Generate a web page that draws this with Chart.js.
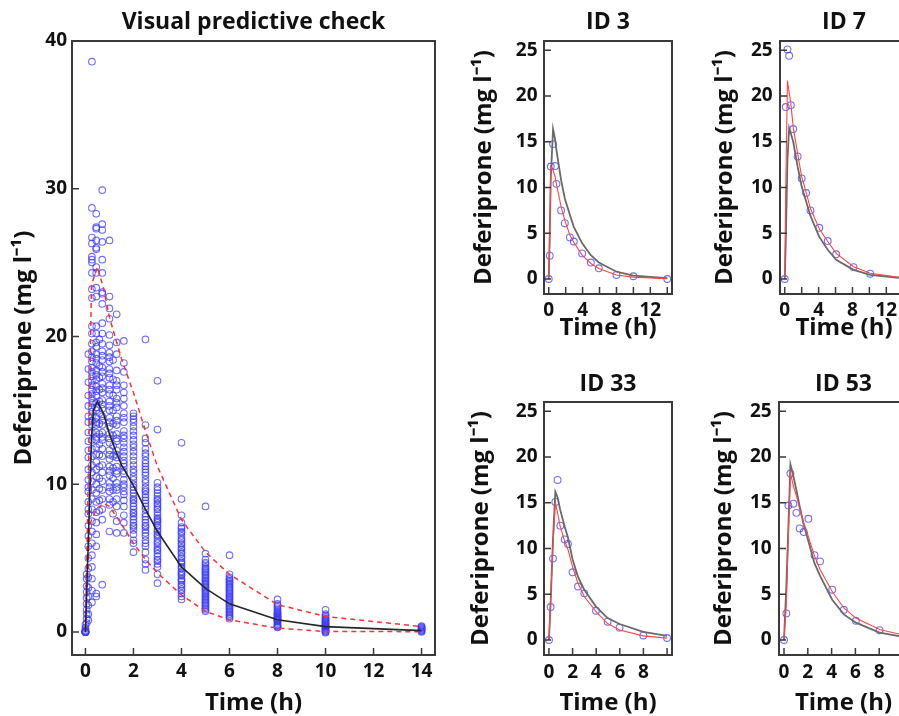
<!DOCTYPE html>
<html><head><meta charset="utf-8">
<script src="https://cdn.jsdelivr.net/npm/chart.js@4/dist/chart.umd.min.js"></script>
<style>
html,body{margin:0;padding:0;background:#fff;overflow:hidden;width:899px;height:716px;position:relative;}
canvas{position:absolute;}
</style></head><body>
<canvas id="main" width="450" height="716" style="left:0px;top:0px"></canvas>
<canvas id="id3" width="230" height="345" style="left:450px;top:0px"></canvas>
<canvas id="id7" width="230" height="345" style="left:686px;top:0px"></canvas>
<canvas id="id33" width="230" height="356" style="left:450px;top:360px"></canvas>
<canvas id="id53" width="230" height="356" style="left:686px;top:360px"></canvas>
<script>
// ---------- tick labels ----------
const mainXTicks = [0, 2, 4, 6, 8, 10, 12, 14];
const mainYTicks = [0, 10, 20, 30, 40];
const idYTicks = [0, 5, 10, 15, 20, 25];
const idXTicksLong = [0, 2, 4, 6, 8, 10, 12, 14];
const idXLabelsLong = [0, 4, 8, 12];
const idXTicksShort = [0, 2, 4, 6, 8, 10];
const idXLabelsShort = [0, 2, 4, 6, 8];

// ---------- VPC observed concentrations, by sampling time ----------
const vpcObsTimes = [0, 0.05, 0.12, 0.27, 0.45, 0.58, 0.7, 1.0, 1.15, 1.3, 1.6, 2, 2.5, 3, 4, 5, 6, 8, 10, 14];
const obsT0 = [0, 0, 0, 0, 0, 0, 0, 0, 0.1, 0.2, 0.3, 0.5];
const obsT005 = [0.6, 0.9, 1.2, 1.5, 1.9, 2.3, 2.7, 3.1, 3.6, 3.9];
const obsT012 = [18.8, 17.8, 16.9, 16.0, 15.3, 14.6, 14.2, 13.5, 12.9, 12.3, 11.8, 11.0, 10.3, 9.8, 9.5, 8.8, 8.3, 8.0, 7.2, 6.5, 5.8, 5.0, 4.3, 3.7, 3.0, 2.4, 1.8, 1.2, 0.8];
const obsT027 = [38.6, 28.7, 26.7, 26.3, 25.4, 25.2, 25.0, 24.3, 23.2, 22.6, 20.7, 20.2, 19.5, 19.0, 18.6, 18.3, 17.9, 17.6, 17.3, 17.0, 16.7, 16.4, 16.1, 15.8, 15.5, 15.2, 14.9, 14.6, 14.3, 14.0, 13.5, 13.0, 12.4, 11.9, 11.3, 10.8, 10.2, 9.6, 9.0, 8.3, 7.5, 6.8, 6.0, 5.2, 4.4, 3.6, 2.8, 2.0];
const obsT045 = [28.3, 27.4, 27.3, 26.5, 26.0, 25.9, 24.7, 24.3, 23.3, 22.7, 20.7, 20.2, 19.6, 19.3, 18.8, 18.5, 18.2, 17.7, 17.4, 17.1, 16.6, 16.3, 16.0, 15.5, 15.2, 15.0, 14.5, 14.2, 14.0, 13.5, 13.2, 13.0, 12.5, 12.0, 11.5, 11.0, 10.5, 10.0, 9.4, 8.8, 8.1, 7.4, 6.6, 5.8, 2.6, 2.4];
const obsT058 = [19.8, 18.0, 17.2, 16.4, 15.6, 14.8, 14.1, 13.4, 12.7, 12.0, 11.2, 10.4, 9.7, 8.9, 8.2];
const obsT070 = [29.9, 27.6, 27.2, 26.4, 25.2, 24.3, 23.0, 22.9, 22.2, 20.9, 20.2, 19.5, 19.0, 18.7, 18.4, 17.9, 17.6, 17.3, 16.8, 16.5, 16.2, 15.7, 15.4, 15.1, 14.6, 14.3, 14.0, 13.5, 13.2, 13.0, 12.4, 11.9, 11.3, 10.8, 10.2, 9.6, 9.0, 8.3, 7.6, 3.2];
const obsT100 = [26.5, 22.7, 21.9, 21.2, 20.1, 19.4, 18.9, 18.6, 18.3, 17.8, 17.5, 17.2, 16.7, 16.4, 16.1, 15.6, 15.3, 15.0, 14.5, 14.2, 13.9, 13.4, 13.1, 12.8, 12.3, 12.0, 11.7, 11.2, 10.9, 10.6, 10.1, 9.8, 9.5, 9.0, 8.6, 6.8];
const obsT115 = [18.4, 17.1, 16.0, 15.0, 14.1, 13.3, 12.6, 11.9, 11.1, 10.4, 9.6, 8.8, 8.0];
const obsT130 = [21.5, 19.6, 18.8, 17.7, 17.0, 16.7, 16.4, 15.8, 15.5, 15.2, 14.6, 14.3, 14.0, 13.4, 13.1, 12.9, 12.3, 12.0, 11.8, 11.2, 10.9, 10.7, 10.1, 9.8, 9.6, 9.0, 8.5, 7.5, 6.7];
const obsT160 = [19.7, 18.2, 17.6, 16.7, 16.2, 15.8, 15.3, 14.8, 14.5, 14.2, 13.6, 13.3, 13.1, 12.8, 12.5, 12.2, 11.9, 11.6, 11.4, 11.2, 10.9, 10.7, 10.3, 10.0, 9.8, 9.5, 9.3, 8.9, 8.5, 7.9, 7.4, 6.7];
const obsT200 = [14.8, 14.6, 14.4, 14.2, 13.9, 13.6, 13.3, 13.0, 12.7, 12.5, 12.2, 11.9, 11.6, 11.3, 11.0, 10.8, 10.5, 10.3, 10.0, 9.8, 9.6, 9.4, 9.2, 9.0, 8.9, 8.7, 8.5, 8.3, 8.1, 8.0, 7.8, 7.6, 7.4, 7.2, 7.1, 6.9, 6.6, 6.2, 6.0, 5.4];
const obsT250 = [19.8, 14.0, 13.1, 12.8, 12.4, 12.1, 11.9, 11.6, 11.4, 11.2, 11.0, 10.8, 10.6, 10.3, 10.1, 9.8, 9.6, 9.5, 9.3, 9.1, 8.9, 8.7, 8.5, 8.3, 8.0, 7.8, 7.6, 7.4, 7.2, 7.1, 6.9, 6.7, 6.5, 6.2, 6.0, 5.8, 5.4, 4.9, 4.6, 4.2];
const obsT300 = [17.0, 13.7, 10.1, 9.8, 9.6, 9.4, 9.2, 9.0, 8.9, 8.7, 8.6, 8.4, 8.3, 8.1, 7.9, 7.7, 7.6, 7.5, 7.4, 7.2, 7.1, 6.9, 6.8, 6.6, 6.5, 6.3, 6.1, 6.0, 5.8, 5.6, 5.5, 5.3, 5.1, 4.9, 4.8, 4.6, 4.4, 3.9, 3.3];
const obsT400 = [12.8, 9.0, 7.9, 7.4, 7.1, 7.0, 6.8, 6.7, 6.5, 6.3, 6.2, 6.0, 5.9, 5.7, 5.6, 5.4, 5.3, 5.1, 5.0, 4.8, 4.7, 4.6, 4.4, 4.3, 4.1, 4.0, 3.9, 3.8, 3.6, 3.5, 3.4, 3.2, 3.1, 2.9, 2.8, 2.6, 2.4, 2.2];
const obsT500 = [8.5, 5.3, 4.9, 4.7, 4.6, 4.4, 4.3, 4.2, 4.1, 4.0, 3.9, 3.8, 3.7, 3.6, 3.5, 3.4, 3.3, 3.2, 3.1, 3.0, 2.9, 2.8, 2.7, 2.6, 2.5, 2.4, 2.3, 2.2, 2.1, 2.0, 1.9, 1.8, 1.7, 1.6, 1.5, 1.4];
const obsT600 = [5.2, 3.9, 3.7, 3.6, 3.5, 3.4, 3.3, 3.2, 3.1, 3.0, 2.9, 2.8, 2.7, 2.6, 2.5, 2.4, 2.3, 2.2, 2.1, 2.0, 1.9, 1.8, 1.7, 1.6, 1.5, 1.4, 1.3, 1.2, 1.1, 1.0, 0.9];
const obsT800 = [2.2, 1.9, 1.8, 1.7, 1.6, 1.5, 1.4, 1.3, 1.25, 1.2, 1.1, 1.05, 1.0, 0.95, 0.9, 0.85, 0.8, 0.75, 0.7, 0.6, 0.5, 0.45, 0.4, 0.35, 0.3];
const obsT1000 = [1.5, 1.2, 1.1, 1.0, 0.9, 0.85, 0.8, 0.7, 0.65, 0.6, 0.55, 0.5, 0.45, 0.4, 0.35, 0.3, 0.25, 0.2, 0.15, 0.1, 0.05, 0.0, -0.05];
const obsT1400 = [0.4, 0.35, 0.3, 0.25, 0.2, 0.15, 0.1, 0.05, 0.0];
const vpcObsColumns = [obsT0, obsT005, obsT012, obsT027, obsT045, obsT058, obsT070, obsT100, obsT115, obsT130, obsT160,
  obsT200, obsT250, obsT300, obsT400, obsT500, obsT600, obsT800, obsT1000, obsT1400];

// ---------- VPC simulated median and 5th / 95th percentiles ----------
const medianTimes = [0, 0.17, 0.25, 0.33, 0.5, 0.75, 1, 1.25, 1.5, 2, 2.5, 3, 4, 5, 6, 8, 10, 14];
const medianConc = [0, 8.8, 13.0, 15.0, 15.6, 14.8, 13.4, 12.3, 11.3, 9.9, 8.3, 6.8, 4.4, 2.95, 1.9, 0.82, 0.36, 0.09];
const pctTimes = [0, 0.17, 0.25, 0.5, 0.75, 1, 1.5, 2, 2.5, 3, 4, 5, 6, 8, 10, 14];
const upperConc = [0, 15.0, 23.5, 24.7, 23.3, 21.3, 18.5, 16.2, 13.6, 11.2, 7.6, 5.4, 3.9, 1.85, 1.05, 0.36];
const lowerConc = [0, 7.0, 7.6, 8.4, 8.7, 8.5, 7.3, 6.0, 4.9, 4.0, 2.5, 1.4, 0.82, 0.26, 0.03, 0.02];

// ---------- individual fits ----------
const id3Times = [0, 0.12, 0.24, 0.51, 0.75, 0.91, 1.46, 1.9, 2.5, 2.96, 3.95, 4.97, 5.92, 8.0, 10.0, 14.0];
const id3Obs = [0, 2.55, 12.3, 14.75, 12.35, 10.4, 7.5, 6.1, 4.55, 4.1, 2.8, 1.8, 1.17, 0.44, 0.3, 0.0];
const id3Pop = [0, 5.0, 11.0, 16.4, 15.3, 14.1, 10.8, 8.8, 7.0, 5.7, 3.9, 2.6, 1.8, 0.8, 0.36, 0.08];
const id3Ind = [0, 4.0, 12.3, 11.9, 11.2, 10.4, 7.9, 6.4, 4.8, 4.0, 2.6, 1.7, 1.15, 0.44, 0.2, 0.02];

const id7ObsTimes = [0, 0.12, 0.32, 0.52, 0.72, 1.0, 1.52, 2.0, 2.52, 3.04, 4.08, 5.08, 6.08, 8.12, 10.1];
const id7Obs = [0, 18.8, 25.1, 24.4, 19.0, 16.4, 13.4, 11.0, 9.4, 7.5, 5.6, 4.15, 2.7, 1.3, 0.58];
const id7PredTimes = [0, 0.12, 0.32, 0.52, 0.72, 1.0, 1.52, 2.0, 2.52, 3.04, 4.08, 5.08, 6.08, 8.12, 10.1, 14];
const id7Pop = [0, 4.0, 13.0, 16.5, 15.9, 15.0, 12.3, 10.1, 8.5, 6.9, 4.6, 3.2, 2.1, 1.0, 0.44, 0.08];
const id7Ind = [0, 10.0, 21.7, 20.4, 19.2, 16.6, 13.7, 11.2, 9.5, 7.7, 5.5, 4.1, 2.8, 1.35, 0.62, 0.12];

const id33Times = [0, 0.14, 0.34, 0.54, 0.73, 0.96, 1.33, 1.61, 2.0, 2.46, 2.99, 3.98, 4.97, 5.98, 7.99, 10.0];
const id33Obs = [0, 3.6, 8.9, 15.1, 17.5, 12.5, 11.0, 10.5, 7.4, 5.85, 5.1, 3.2, 2.0, 1.35, 0.5, 0.22];
const id33Pop = [0, 4.0, 11.0, 16.2, 15.6, 14.2, 12.4, 11.2, 8.8, 6.9, 5.5, 3.65, 2.4, 1.75, 0.9, 0.45];
const id33Ind = [0, 4.5, 10.5, 15.0, 13.9, 12.4, 10.8, 9.9, 8.0, 6.2, 4.75, 3.1, 1.8, 1.1, 0.45, 0.2];

const id53ObsTimes = [0, 0.2, 0.37, 0.54, 0.79, 1.04, 1.32, 1.66, 2.05, 2.56, 3.03, 4.05, 5.03, 6.04, 8.03];
const id53Obs = [0, 2.9, 14.7, 18.2, 14.9, 13.9, 12.2, 11.8, 13.25, 9.27, 8.6, 5.5, 3.3, 2.1, 1.07];
const id53PredTimes = [0, 0.2, 0.37, 0.54, 0.79, 1.04, 1.32, 1.66, 2.05, 2.56, 3.03, 4.05, 5.03, 6.04, 8.03, 10];
const id53Pop = [0, 6.0, 12.5, 19.2, 17.9, 16.4, 14.6, 12.6, 10.8, 8.4, 7.0, 4.4, 2.8, 1.9, 0.8, 0.35];
const id53Ind = [0, 4.0, 11.5, 18.3, 16.8, 15.8, 14.3, 12.8, 11.3, 9.2, 7.7, 5.3, 3.5, 2.4, 1.15, 0.55];

// ---------- styling ----------
const FONT = "'Open Sans', 'Liberation Sans', sans-serif";
const INK = '#111111';
const FRAME = '#3a3a3a';
const OBS_COLOR = 'rgba(55,55,255,0.72)';
const Y_TITLE = 'Deferiprone (mg l\u207B\u00B9)';
const TICK_SIZE = 19;

const pts = (xs, ys) => xs.map((x, i) => ({ x: x, y: ys[i] }));

const boxTicks = {
  id: 'boxTicks',
  afterDraw(chart) {
    const { ctx, chartArea: a, scales } = chart;
    ctx.save();
    ctx.strokeStyle = FRAME;
    ctx.lineWidth = 1.5;
    ctx.beginPath();
    scales.x.ticks.forEach(t => {
      const p = scales.x.getPixelForValue(t.value);
      ctx.moveTo(p, a.bottom); ctx.lineTo(p, a.bottom - 7);
    });
    scales.y.ticks.forEach(t => {
      const p = scales.y.getPixelForValue(t.value);
      ctx.moveTo(a.left, p); ctx.lineTo(a.left + 7, p);
    });
    ctx.stroke();
    ctx.lineWidth = 2;
    ctx.strokeRect(a.left, a.top, a.right - a.left, a.bottom - a.top);
    ctx.restore();
  }
};

function obsSet(data, r) {
  return { data: data, showLine: false, pointRadius: r, pointBorderWidth: 1.1,
    pointBackgroundColor: 'rgba(0,0,0,0)', pointBorderColor: OBS_COLOR, order: 5 };
}
function lineSet(data, color, width, dash, order) {
  return { data: data, showLine: true, pointRadius: 0, borderColor: color, borderWidth: width,
    borderDash: dash, fill: false, tension: 0, order: order };
}

function panel(el, o) {
  return new Chart(document.getElementById(el), {
    type: 'scatter',
    data: { datasets: o.datasets },
    options: {
      responsive: false, animation: false, events: [],
      layout: { padding: { left: 0, right: o.padRight, top: 0, bottom: 0 } },
      plugins: {
        legend: { display: false }, tooltip: { enabled: false },
        title: { display: true, fullSize: false, text: o.title, color: INK,
          font: { family: FONT, size: 23, weight: 'bold', lineHeight: 1.2 },
          padding: { top: o.titleTop, bottom: o.titleBottom } }
      },
      scales: {
        x: { type: 'linear', position: 'bottom', min: o.xMin, max: o.xMax,
          afterBuildTicks: s => { s.ticks = o.xTicks.map(v => ({ value: v })); },
          afterFit: s => { s.height = o.xHeight; },
          grid: { display: false, drawTicks: false }, border: { display: false },
          ticks: { autoSkip: false, maxRotation: 0, padding: o.xTickPad, color: INK,
            font: { family: FONT, size: TICK_SIZE, weight: 'bold', lineHeight: 1.2 },
            callback: v => (o.xLabels.indexOf(v) >= 0 ? String(v) : '') },
          title: { display: true, text: 'Time (h)', color: INK,
            font: { family: FONT, size: 24, weight: 'bold', lineHeight: 1 },
            padding: { top: 0, bottom: o.xTitlePad } } },
        y: { type: 'linear', position: 'left', min: o.yMin, max: o.yMax,
          afterBuildTicks: s => { s.ticks = o.yTicks.map(v => ({ value: v })); },
          afterFit: s => { s.width = o.yWidth; },
          grid: { display: false, drawTicks: false }, border: { display: false },
          ticks: { autoSkip: false, padding: o.yTickPad, color: INK,
            font: { family: FONT, size: TICK_SIZE, weight: 'bold' },
            callback: v => String(v) },
          title: { display: true, text: Y_TITLE, color: INK,
            font: { family: FONT, size: 24, weight: 'bold', lineHeight: 1 },
            padding: { top: o.yTitlePad, bottom: 0 } } }
      }
    },
    plugins: [boxTicks]
  });
}

// ---------- main VPC panel ----------
const vpcObsPoints = vpcObsTimes.flatMap((t, i) => vpcObsColumns[i].map(v => ({ x: t, y: v })));
panel('main', {
  title: 'Visual predictive check', titleTop: 9, titleBottom: 4.4, padRight: 15,
  xMin: -0.56, xMax: 14.56, xTicks: mainXTicks, xLabels: mainXTicks, xHeight: 61, xTickPad: 5.5, xTitlePad: 0.7,
  yMin: -1.56, yMax: 40, yTicks: mainYTicks, yWidth: 72, yTickPad: 5, yTitlePad: 12.6,
  datasets: [
    lineSet(pts(medianTimes, medianConc), '#262626', 1.6, [], 1),
    lineSet(pts(pctTimes, upperConc), '#ff3030', 1.5, [5, 4], 2),
    lineSet(pts(pctTimes, lowerConc), '#ff3030', 1.5, [5, 4], 2),
    obsSet(vpcObsPoints, 3.3)
  ]
});

// ---------- individual panels ----------
const POP = '#6a6a6a', IND = '#ff4545';
panel('id3', {
  title: 'ID 3', titleTop: 9, titleBottom: 4.4, padRight: 8,
  xMin: -0.56, xMax: 14.56, xTicks: idXTicksLong, xLabels: idXLabelsLong, xHeight: 51, xTickPad: 4.7, xTitlePad: 4.7,
  yMin: -1.64, yMax: 26.02, yTicks: idYTicks, yWidth: 94, yTickPad: 6.5, yTitlePad: 22.3,
  datasets: [
    lineSet(pts(id3Times, id3Pop), POP, 1.8, [], 2),
    lineSet(pts(id3Times, id3Ind), IND, 1.1, [], 1),
    obsSet(pts(id3Times, id3Obs), 3.4)
  ]
});
panel('id7', {
  title: 'ID 7', titleTop: 9, titleBottom: 4.4, padRight: 8,
  xMin: -0.56, xMax: 14.56, xTicks: idXTicksLong, xLabels: idXLabelsLong, xHeight: 51, xTickPad: 4.7, xTitlePad: 4.7,
  yMin: -1.64, yMax: 26.02, yTicks: idYTicks, yWidth: 94, yTickPad: 7.3, yTitlePad: 27,
  datasets: [
    lineSet(pts(id7PredTimes, id7Pop), POP, 1.8, [], 2),
    lineSet(pts(id7PredTimes, id7Ind), IND, 1.1, [], 1),
    obsSet(pts(id7ObsTimes, id7Obs), 3.4)
  ]
});
panel('id33', {
  title: 'ID 33', titleTop: 10.5, titleBottom: 3.9, padRight: 8,
  xMin: -0.42, xMax: 10.42, xTicks: idXTicksShort, xLabels: idXLabelsShort, xHeight: 61, xTickPad: 5.7, xTitlePad: 0.7,
  yMin: -1.64, yMax: 26.02, yTicks: idYTicks, yWidth: 94, yTickPad: 6.5, yTitlePad: 19.6,
  datasets: [
    lineSet(pts(id33Times, id33Pop), POP, 1.8, [], 2),
    lineSet(pts(id33Times, id33Ind), IND, 1.1, [], 1),
    obsSet(pts(id33Times, id33Obs), 3.4)
  ]
});
panel('id53', {
  title: 'ID 53', titleTop: 10.5, titleBottom: 3.9, padRight: 8,
  xMin: -0.42, xMax: 10.42, xTicks: idXTicksShort, xLabels: idXLabelsShort, xHeight: 61, xTickPad: 5.7, xTitlePad: 0.7,
  yMin: -1.64, yMax: 26.02, yTicks: idYTicks, yWidth: 93, yTickPad: 7.3, yTitlePad: 26.3,
  datasets: [
    lineSet(pts(id53PredTimes, id53Pop), POP, 1.8, [], 2),
    lineSet(pts(id53PredTimes, id53Ind), IND, 1.1, [], 1),
    obsSet(pts(id53ObsTimes, id53Obs), 3.4)
  ]
});
</script>
</body></html>
